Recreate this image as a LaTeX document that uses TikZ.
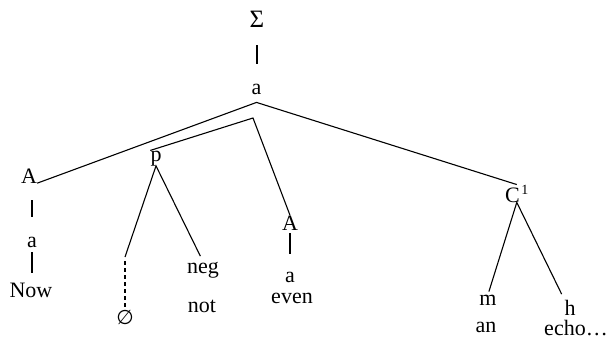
\documentclass[tikz,border=0pt]{standalone}
\usepackage{fontspec}
\setmainfont{Liberation Serif}
\newfontfamily\djv{DejaVu Sans}
\usetikzlibrary{positioning,calc}

\begin{document}
\begin{tikzpicture}[x=1pt, y=-1pt, every node/.style={font=\fontsize{22}{26}\selectfont, inner sep=0pt, anchor=base}]
\tikzset{branch/.style={line width=1.1pt}}
\tikzset{stem/.style={line width=1.5pt}}
\useasboundingbox (0,0) rectangle (607,342);
\node (sigma) at (257,28) {\fontsize{25}{30}\selectfont Σ};
\node (root) at (256.5,95) {a};
\node (advL) at (29,183) {A};
\node (aL) at (32,247) {a};
\node (now) at (31,297) {Now};
\node (p) at (156,161) {p};
\coordinate (bend) at (253,118);
\coordinate (gap) at (125,257);
\node[anchor=center] (null) at (125,317) {\djv\fontsize{20}{24}\selectfont ∅};
\node (neg) at (203,273) {neg};
\node (notw) at (202,312) {not};
\node (advR) at (290,230) {A};
\node (aR) at (290,282) {a};
\node (even) at (292,303) {even};
\node[anchor=base west] (comp) at (505,202) {C\kern1.5pt\raisebox{8pt}{\fontsize{14}{14}\selectfont 1}};
\node (m) at (488,305) {m};
\node (an) at (486,332) {an};
\node (h) at (570,315) {h};
\node (echo) at (576,335) {echo…};
\draw[stem, shorten <=17pt, shorten >=20pt] (sigma.south) -- (sigma.south |- root.north);
\draw[branch] (advL.south east) -- ([yshift=-7pt]root.south) -- (comp.north);
\draw[branch] (p.north west) -- (bend) -- (advR.north);
\draw[branch, shorten >=6pt] (gap) -- (p.south) -- (neg.north);
\draw[branch, dash pattern=on 4pt off 3pt, shorten <=4pt] (gap) -- (null.north);
\draw[stem, shorten <=17pt, shorten >=19pt] (advL.south -| aL.north) -- (aL.north);
\draw[stem, shorten <=5pt, shorten >=9.5pt] (aL.south) -- (aL.south |- now.north);
\draw[stem, shorten <=3pt, shorten >=17pt] (advR.south) -- (advR.south |- aR.north);
\draw[branch, shorten <=3pt, shorten >=6pt] (m.north) -- (comp.south) -- (h.north west);
\end{tikzpicture}
\end{document}
